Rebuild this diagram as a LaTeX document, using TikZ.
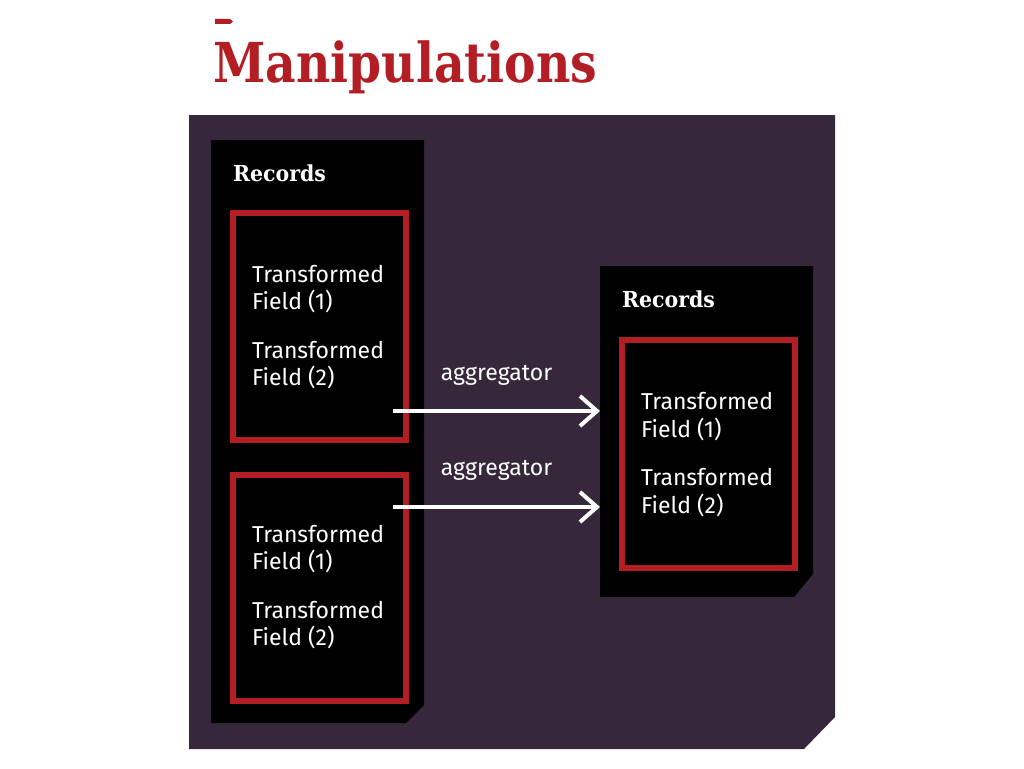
\documentclass[tikz,border=0pt]{standalone}
\usepackage{fontspec}
\setmainfont{Fira Sans}
\newfontfamily\titlefont[FakeStretch=0.86]{DejaVu Serif}
\newfontfamily\recfont[FakeStretch=0.93]{DejaVu Serif}
\usetikzlibrary{arrows.meta}
\definecolor{bgpurple}{HTML}{36273A}
\definecolor{mred}{HTML}{B31E25}
\begin{document}
\begin{tikzpicture}[x=1pt,y=-1pt,
  field/.style={anchor=base west, inner sep=0pt, text=white, font=\fontsize{23}{27}\selectfont},
  rec/.style={anchor=base west, inner sep=0pt, text=white, font=\recfont\bfseries\fontsize{22}{26}\selectfont},
  redbox/.style={draw=mred, line width=6pt},
  agg/.style={-{Straight Barb[length=17pt,width=30pt]}, draw=white, line width=4pt},
  agglabel/.style={anchor=base, inner sep=0pt, text=white, font=\fontsize{23}{27}\selectfont}]
\useasboundingbox (0,0) rectangle (1024,768);
\fill[white] (0,0) rectangle (1024,768);
% title
\fill[mred] (215,19) -- (230,19) -- (233,21.5) -- (230,24) -- (215,24) -- cycle;
\node[anchor=base west, inner sep=0pt, text=mred, font=\titlefont\bfseries\fontsize{55}{60}\selectfont] (title) at (213,82) {Manipulations};
% background panel
\fill[bgpurple] (189,115) -- (835,115) -- (835,717) -- (804,749) -- (189,749) -- cycle;
% left records box
\fill[black] (211,140) -- (424,140) -- (424,705) -- (406,723) -- (211,723) -- cycle;
\node[rec] (recL) at (233,181) {Records};
\draw[redbox] (233,213) rectangle (406,440);
\draw[redbox] (233,475) rectangle (406,701);
\node[field] (l1a) at (252,282) {Transformed};
\node[field] (l1b) at (252,309) {Field (1)};
\node[field] (l1c) at (252,358) {Transformed};
\node[field] (l1d) at (252,385) {Field (2)};
\node[field] (l2a) at (252,542) {Transformed};
\node[field] (l2b) at (252,569) {Field (1)};
\node[field] (l2c) at (252,618) {Transformed};
\node[field] (l2d) at (252,645) {Field (2)};
% right records box
\fill[black] (600,266) -- (813,266) -- (813,574) -- (794,597) -- (600,597) -- cycle;
\node[rec] (recR) at (622,307) {Records};
\draw[redbox] (622,340) rectangle (795,568);
\node[field] (r1a) at (641,409) {Transformed};
\node[field] (r1b) at (641,437) {Field (1)};
\node[field] (r1c) at (641,485) {Transformed};
\node[field] (r1d) at (641,513) {Field (2)};
% arrows
\coordinate (s1) at (393,411);
\coordinate (e1) at (600,411);
\coordinate (s2) at (393,507);
\coordinate (e2) at (600,507);
\draw[agg] (s1) -- node[agglabel, midway, yshift=31pt] (ag1) {aggregator} (e1);
\draw[agg] (s2) -- node[agglabel, midway, yshift=32pt] (ag2) {aggregator} (e2);
\end{tikzpicture}
\end{document}
